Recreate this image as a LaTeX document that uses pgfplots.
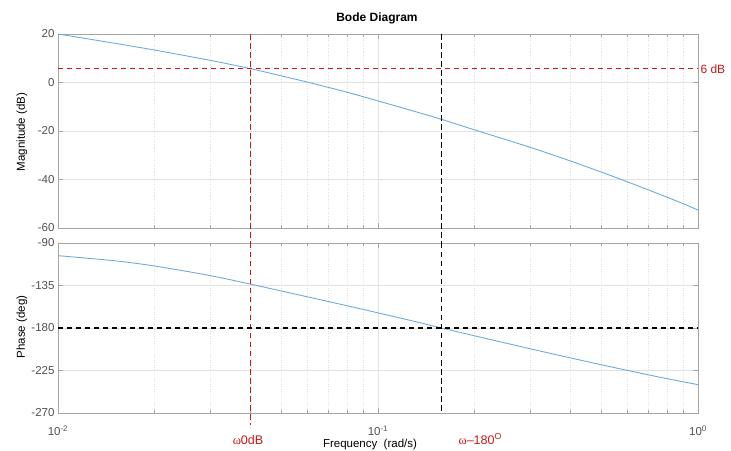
\documentclass[border=0pt]{standalone}
\usepackage{pgfplots}
\pgfplotsset{compat=1.18}
\usepackage{fontspec}
\setmainfont{Liberation Sans}
\newfontfamily\greekserif{Liberation Serif}
\definecolor{bodeblue}{RGB}{110,170,222}
\definecolor{dred}{RGB}{204,24,24}
\definecolor{axgray}{RGB}{165,165,165}
\definecolor{tickgray}{RGB}{80,80,80}
\definecolor{gridgray}{RGB}{226,226,226}
\tikzset{bodedash/.style={dash pattern=on 5.5pt off 3.5pt, line width=1.1pt}}
\begin{document}
\begin{tikzpicture}
\useasboundingbox (0pt,0pt) rectangle (731pt,450pt);
% magnitude
\begin{axis}[
  scale only axis, width=640pt, height=194pt, xmode=log, xmin=0.01, xmax=1,
  at={(58pt,222pt)}, anchor=south west,
  axis line style={axgray, line width=0.8pt},
  every tick/.style={axgray, line width=0.5pt},
  tick align=inside, tick pos=both,
  major tick length=5pt, minor tick length=3pt,
  xmajorgrids=true, xminorgrids=true, ymajorgrids=true,
  major grid style={gridgray, line width=0.5pt},
  minor grid style={gridgray, dotted, line width=0.5pt},
  ticklabel style={font=\fontsize{11.5}{13}\selectfont, text=tickgray},
  /pgf/number format/assume math mode=true,
  xtick={0.01,0.1,1}, xticklabels={},
  clip=false,
  ymin=-60, ymax=20, ytick={-60,-40,-20,0,20}]
\addplot[bodeblue, line width=0.9pt, smooth, tension=0.5] coordinates {
(0.01,20.0)(0.015,16.2)(0.02,13.4)(0.03,9.1)(0.04,5.7)(0.05,2.7)(0.06,0.2)
(0.08,-4.0)(0.1,-7.6)(0.13,-11.9)(0.158,-15.2)(0.2,-19.5)(0.3,-26.8)
(0.4,-32.4)(0.5,-37.0)(0.6,-40.9)(0.7,-44.3)(0.8,-47.3)(0.9,-50.0)(1.0,-52.6)};
\addplot[dred, bodedash] coordinates {(0.0399,20) (0.0399,-66.2)};
\addplot[black, bodedash] coordinates {(0.158,20) (0.158,-66.2)};
\addplot[dred, bodedash] coordinates {(0.01,5.6) (1.0,5.6)}
  node[pos=1, anchor=west, fill=white, inner sep=2pt, text=dred, font=\fontsize{12}{14}\selectfont] {6 dB};
\end{axis}
% phase
\begin{axis}[
  scale only axis, width=640pt, height=170pt, xmode=log, xmin=0.01, xmax=1,
  at={(58pt,37pt)}, anchor=south west,
  axis line style={axgray, line width=0.8pt},
  every tick/.style={axgray, line width=0.5pt},
  tick align=inside, tick pos=both,
  major tick length=5pt, minor tick length=3pt,
  xmajorgrids=true, xminorgrids=true, ymajorgrids=true,
  major grid style={gridgray, line width=0.5pt},
  minor grid style={gridgray, dotted, line width=0.5pt},
  ticklabel style={font=\fontsize{11.5}{13}\selectfont, text=tickgray},
  /pgf/number format/assume math mode=true,
  xtick={0.01,0.1,1},
  clip=false,
  ymin=-270, ymax=-90, ytick={-270,-225,-180,-135,-90},
  xticklabels={10\textsuperscript{-2},10\textsuperscript{-1},10\textsuperscript{0}},
  xticklabel style={yshift=-9pt}]
\addplot[bodeblue, line width=0.9pt, smooth, tension=0.5] coordinates {
(0.01,-103.4)(0.015,-108.8)(0.02,-114.3)(0.03,-124.6)(0.04,-133.6)(0.05,-140.9)
(0.06,-146.9)(0.08,-156.4)(0.1,-164.0)(0.13,-173.0)(0.158,-180.0)(0.2,-188.2)
(0.3,-202.1)(0.4,-211.7)(0.5,-219.0)(0.6,-224.8)(0.7,-229.6)(0.8,-233.6)
(0.9,-237.0)(1.0,-240.0)};
\addplot[dred, bodedash] coordinates {(0.0399,-90) (0.0399,-283)};
\addplot[black, bodedash] coordinates {(0.158,-90) (0.158,-270)};
\addplot[black, bodedash] coordinates {(0.01,-180) (1.0,-180)};
\end{axis}
% texts
\node[font=\bfseries\fontsize{12}{14}\selectfont] at (377pt,432pt) {Bode Diagram};
\node[rotate=90, font=\fontsize{11.5}{13}\selectfont] at (22pt,318pt) {Magnitude (dB)};
\node[rotate=90, font=\fontsize{11.5}{13}\selectfont] at (22pt,123pt) {Phase (deg)};
\node[font=\fontsize{11.5}{13}\selectfont] at (370pt,5pt) {Frequency\ \ (rad/s)};
\node[text=dred, font=\fontsize{12.5}{14}\selectfont] at (248pt,10pt) {{\greekserif ω}0dB};
\node[text=dred, font=\fontsize{12.5}{14}\selectfont, anchor=west] at (455pt,11pt) {{\greekserif ω}\textendash180\textsuperscript{O}};
\end{tikzpicture}
\end{document}
